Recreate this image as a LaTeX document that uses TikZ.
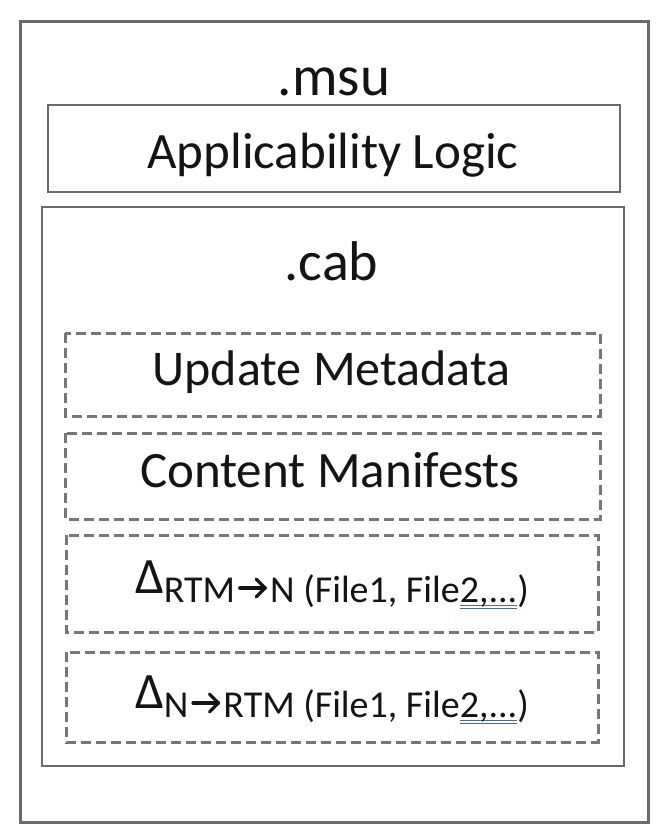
\documentclass[tikz,border=0pt]{standalone}
\usepackage{fontspec}
\usepackage{pict2e}
\setmainfont{Carlito}
\definecolor{linegray}{HTML}{6A6A6A}
\definecolor{dashgray}{HTML}{767676}
\definecolor{txt}{HTML}{141414}
\definecolor{ublue}{HTML}{4A68A8}
\newcommand\squig[1]{\leavevmode\sbox0{#1}\rlap{\color{ublue}\rule[-4pt]{\wd0}{1.3pt}}\rlap{\color{ublue}\rule[-7pt]{\wd0}{1.3pt}}\usebox0}
\newcommand\dlt{\raisebox{9pt}{\fontsize{51}{60}\selectfont Δ}}
\newcommand\arr{\hspace{3pt}{\setlength\unitlength{1pt}\begin{picture}(29,24)\linethickness{3.2pt}\roundcap\roundjoin\polyline(1.5,14)(27,14)\polyline(18,23)(27,14)(18,5)\end{picture}}\hspace{3pt}}
\begin{document}
\begin{tikzpicture}[x=1pt,y=-1pt,
  solidbox/.style={draw=linegray,line width=2pt},
  outerbox/.style={draw=linegray,line width=3pt},
  dashbox/.style={draw=dashgray,line width=3pt,dash pattern=on 10pt off 5pt},
  lbl/.style={anchor=base,inner sep=0pt,text=txt},
  mid/.style={lbl,font=\fontsize{38}{46}\selectfont}]
\useasboundingbox (0,0) rectangle (664,836);
\fill[white] (0,0) rectangle (664,836);
\draw[outerbox] (20,21) rectangle (648,822);
\node[lbl,font=\fontsize{57}{66}\selectfont] (msu) at (334,95) {.msu};
\draw[solidbox] (48,105) rectangle (620,192);
\node[lbl,font=\fontsize{51}{60}\selectfont] (app) at (333,168) {Applicability Logic};
\draw[solidbox] (42,207) rectangle (624,766);
\node[lbl,font=\fontsize{56}{66}\selectfont] (cab) at (331.5,280) {.cab};
\draw[dashbox] (65,333) rectangle (600,416);
\node[lbl,font=\fontsize{50}{60}\selectfont] (um) at (331.5,385) {Update Metadata};
\draw[dashbox] (65,433) rectangle (600,519);
\node[lbl,font=\fontsize{51}{60}\selectfont] (cm) at (330,487) {Content Manifests};
\draw[dashbox] (66,535) rectangle (598,632);
\node[mid] (d1) at (332,602) {\dlt RTM\arr N (File1, File\squig{2,...})};
\draw[dashbox] (66,652) rectangle (598,742);
\node[mid] (d2) at (332,717) {\dlt N\arr RTM (File1, File\squig{2,...})};
\end{tikzpicture}
\end{document}
